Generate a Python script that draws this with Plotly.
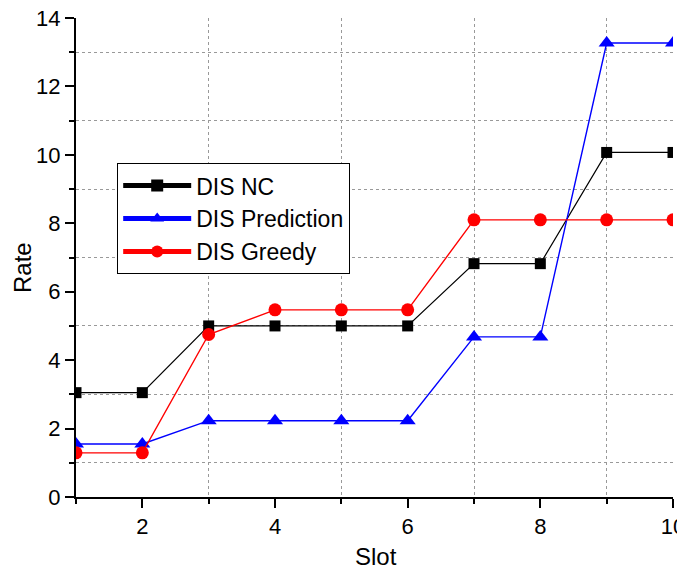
import plotly.graph_objects as go

slots = [1, 2, 3, 4, 5, 6, 7, 8, 9, 10]
dis_nc = [3.05, 3.05, 5.0, 5.0, 5.0, 5.0, 6.82, 6.82, 10.07, 10.07]
dis_prediction = [1.55, 1.55, 2.23, 2.23, 2.23, 2.23, 4.68, 4.68, 13.27, 13.27]
dis_greedy = [1.29, 1.29, 4.75, 5.47, 5.47, 5.47, 8.1, 8.1, 8.1, 8.1]

FONT = "Liberation Sans, Arial, sans-serif"

fig = go.Figure()
fig.add_trace(go.Scatter(x=slots, y=dis_nc, name="DIS NC", mode="lines+markers",
                         line=dict(color="black", width=1.2),
                         marker=dict(symbol="square", size=11, color="black")))
fig.add_trace(go.Scatter(x=slots, y=dis_prediction, name="DIS Prediction", mode="lines+markers",
                         line=dict(color="#0000ff", width=1.4),
                         marker=dict(symbol="triangle-up", size=14, color="#0000ff")))
fig.add_trace(go.Scatter(x=slots, y=dis_greedy, name="DIS Greedy", mode="lines+markers",
                         line=dict(color="#ff0000", width=1.4),
                         marker=dict(symbol="circle", size=13, color="#ff0000")))

axis_common = dict(
    showline=True, linecolor="black", linewidth=2,
    ticks="outside", ticklen=9, tickwidth=2, tickcolor="black",
    showgrid=False, zeroline=False, mirror=False, automargin=False,
    ticklabeloverflow="allow",
    tickfont=dict(family=FONT, size=22, color="black"),
)
minor_common = dict(dtick=1, tick0=0, ticks="outside", ticklen=5, tickwidth=2, tickcolor="black",
                    showgrid=True, gridcolor="#999999", griddash="dot", gridwidth=1)

fig.update_xaxes(range=[1, 10], tick0=0, dtick=2, minor=minor_common, **axis_common)
fig.update_yaxes(range=[0, 14], tick0=0, dtick=2, minor=minor_common, **axis_common)

fig.add_annotation(text="Rate", xref="paper", yref="paper", x=0, y=0.478,
                   xanchor="center", yanchor="middle", xshift=-54, textangle=-90, showarrow=False,
                   font=dict(family=FONT, size=24, color="black"))
fig.add_annotation(text="Slot", xref="paper", yref="paper", x=0.5025, y=0,
                   xanchor="center", yanchor="middle", yshift=-59, showarrow=False,
                   font=dict(family=FONT, size=24, color="black"))

fig.update_layout(
    width=685, height=570,
    margin=dict(l=68, r=20, t=10, b=81, autoexpand=False),
    plot_bgcolor="white", paper_bgcolor="white",
    font=dict(family=FONT, color="black"),
    legend=dict(x=0.069, y=0.697, xanchor="left", yanchor="top",
                bgcolor="white", bordercolor="black", borderwidth=1,
                font=dict(family=FONT, size=23, color="black"),
                tracegroupgap=0, itemsizing="constant", itemwidth=68),
)

fig.write_html("out.html")
